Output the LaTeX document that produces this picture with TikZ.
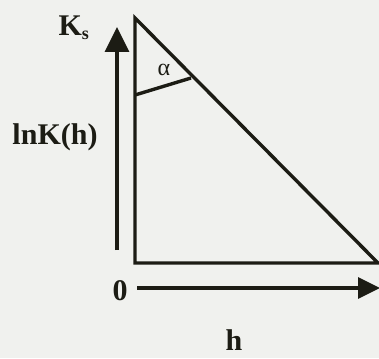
\documentclass[tikz,border=0pt]{standalone}
\usepackage{fontspec}
\setmainfont{Liberation Serif}
\usetikzlibrary{arrows.meta}
\definecolor{ink}{RGB}{28,28,20}
\definecolor{paper}{RGB}{240,241,238}
\begin{document}
\begin{tikzpicture}[x=1pt,y=-1pt,
  edge/.style={draw=ink,line width=3.4pt},
  axis/.style={draw=ink,line width=3.4pt,-{Triangle[length=25pt,width=24pt]}},
  lbl/.style={text=ink,font=\bfseries\fontsize{30}{32}\selectfont,inner sep=0pt}]
\fill[paper] (0,0) rectangle (379,358);
\useasboundingbox (0,0) rectangle (379,358);
% triangle
\coordinate (top) at (135,18);
\coordinate (corner) at (135,263);
\coordinate (right) at (378,263);
\draw[edge,line join=miter] (top) -- (corner) -- (right) -- cycle;
% angle mark
\coordinate (a1) at (135,95);
\coordinate (a2) at (191,78);
\draw[edge] (a1) -- (a2);
\node[text=ink,font=\fontsize{24}{26}\selectfont,inner sep=0pt] (alpha) at (164,70) {α};
% axes
\coordinate (ybot) at (117,250);
\coordinate (ytop) at (117,27);
\draw[axis] (ybot) -- (ytop);
\coordinate (xleft) at (137,288);
\coordinate (xright) at (380,288);
\draw[axis,-{Triangle[length=22pt,width=21pt]}] (xleft) -- (xright);
% labels
\node[lbl] (ks) at (74,28) {K\textsubscript{\fontsize{18}{19}\selectfont s}};
\node[lbl] (lnk) at (55,137) {lnK(h)};
\node[lbl] (zero) at (120,291) {0};
\node[lbl] (h) at (234,340) {h};
\end{tikzpicture}
\end{document}
